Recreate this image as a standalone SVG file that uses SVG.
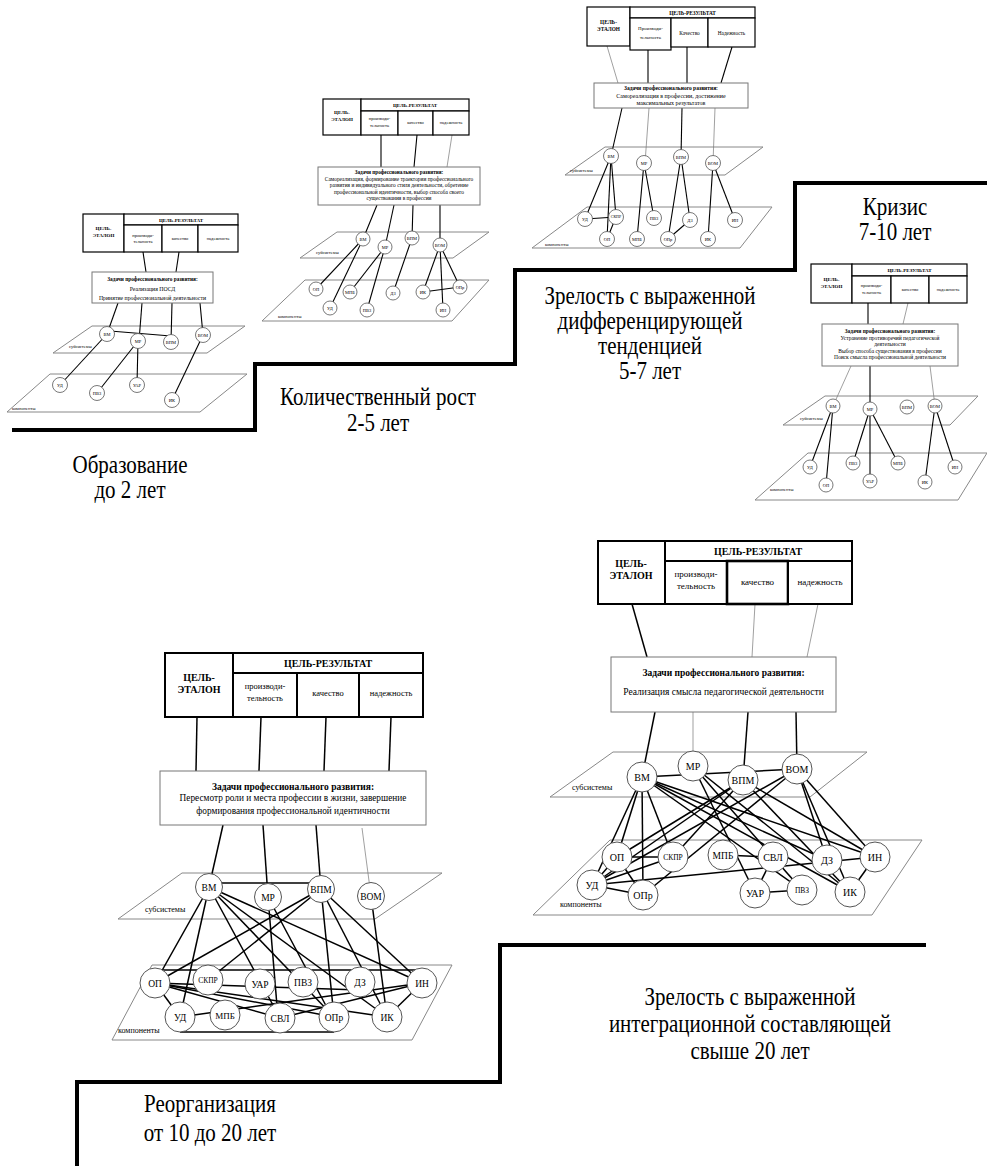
<svg xmlns="http://www.w3.org/2000/svg" width="987" height="1166" viewBox="0 0 987 1166">
<defs>
<style>
text{font-family:"Liberation Serif","Times New Roman",serif;fill:#000;text-anchor:middle}
.h{font-weight:bold}
.st{fill:none;stroke:#000;stroke-width:4}
.b{fill:#fff;stroke:#000;stroke-width:1.2}
.b2{fill:#fff;stroke:#000;stroke-width:2}
.b3{fill:#fff;stroke:#000;stroke-width:2.6}
.tk{fill:#fff;stroke:#777;stroke-width:1}
.pl{fill:none;stroke:#888;stroke-width:1}
.c{fill:#fff;stroke:#555;stroke-width:0.8}
.c2{fill:#fff;stroke:#555;stroke-width:1}
.e line{stroke:#000;stroke-width:1.1}
.e2 line{stroke:#000;stroke-width:1.5}
line.t{stroke:#777;stroke-width:0.7}
.lab{font-size:21px}
.s{font-size:4.5px}
.pa{text-anchor:start}
</style>
</defs>
<rect width="987" height="1166" fill="#fff"/>

<g id="stairs">
<polyline class="st" points="12,430 255,430 255,364 515,364 515,270 795,270 795,183 987,183"/>
<polyline class="st" points="77,1166 77,1082 500,1082 500,945 926,945"/>
</g>

<g id="stage-labels" class="lab">
<text transform="translate(130,473) scale(1,1.15)">Образование</text>
<text transform="translate(130,498) scale(1,1.15)">до 2 лет</text>
<text transform="translate(378,405) scale(1,1.15)">Количественный рост</text>
<text transform="translate(378,431) scale(1,1.15)">2-5 лет</text>
<text transform="translate(650,304) scale(1,1.15)">Зрелость с выраженной</text>
<text transform="translate(650,329) scale(1,1.15)">дифференцирующей</text>
<text transform="translate(650,354) scale(1,1.15)">тенденцией</text>
<text transform="translate(650,379) scale(1,1.15)">5-7 лет</text>
<text transform="translate(895,215) scale(1,1.15)">Кризис</text>
<text transform="translate(895,240) scale(1,1.15)">7-10 лет</text>
<text transform="translate(750,1005) scale(1,1.15)">Зрелость с выраженной</text>
<text transform="translate(750,1032) scale(1,1.15)">интеграционной составляющей</text>
<text transform="translate(750,1059) scale(1,1.15)">свыше 20 лет</text>
<text transform="translate(210,1112) scale(1,1.15)">Реорганизация</text>
<text transform="translate(210,1141) scale(1,1.15)">от 10 до 20 лет</text>
</g>

<g id="planes">
<polygon class="pl" points="92,326 245,326 207,353 53,353"/>
<polygon class="pl" points="50,374 247,374 200,412 7,412"/>
<text class="s pa" x="69" y="348">субсистемы</text>
<text class="s pa" x="12" y="410">компоненты</text>

<polygon class="pl" points="337,232 489,232 453,258 300,258"/>
<polygon class="pl" points="305,280 489,280 452,321 262,321"/>
<text class="s pa" x="316" y="254">субсистемы</text>
<text class="s pa" x="278" y="318">компоненты</text>

<polygon class="pl" points="605,147 763,147 725,175 565,175"/>
<polygon class="pl" points="587,207 772,207 740,248 532,248"/>
<text class="s pa" x="570" y="172">субсистемы</text>
<text class="s pa" x="545" y="246">компоненты</text>

<polygon class="pl" points="825,396 978,396 950,425 783,425"/>
<polygon class="pl" points="808,453 987,453 958,500 755,500"/>
<text class="s pa" x="800" y="420">субсистемы</text>
<text class="s pa" x="770" y="491">компоненты</text>

<polygon class="pl" points="182,873 442,873 375,919 118,919"/>
<polygon class="pl" points="152,965 452,965 412,1040 112,1040"/>
<text class="pa" x="145" y="912" font-size="8">субсистемы</text>
<text class="pa" x="118" y="1033" font-size="8">компоненты</text>

<polygon class="pl" points="613,752 867,752 810,797 550,797"/>
<polygon class="pl" points="610,840 922,840 872,915 533,915"/>
<text class="pa" x="572" y="790" font-size="8">субсистемы</text>
<text class="pa" x="560" y="907" font-size="8">компоненты</text>
</g>

<g id="connectors">
<g id="c-d1" class="e">
<line x1="143" y1="252" x2="146" y2="272"/>
<line x1="179" y1="252" x2="176" y2="272"/>
<line x1="118" y1="303" x2="107" y2="334"/>
<line x1="142" y1="303" x2="139" y2="341"/>
<line x1="172" y1="303" x2="171" y2="342"/>
<line x1="200" y1="303" x2="203" y2="335"/>
<line x1="110" y1="331" x2="171" y2="336"/>
<line x1="107" y1="334" x2="60" y2="385"/>
<line x1="138" y1="341" x2="97" y2="393"/>
<line x1="138" y1="341" x2="137" y2="385"/>
<line x1="203" y1="335" x2="172" y2="400"/>
</g>
<g id="c-d2" class="e">
<line x1="381" y1="135" x2="381" y2="167"/>
<line x1="417" y1="135" x2="414" y2="167"/>
<line class="t" x1="452" y1="135" x2="447" y2="167"/>
<line x1="377" y1="205" x2="363" y2="239"/>
<line x1="394" y1="205" x2="385" y2="247"/>
<line x1="413" y1="205" x2="412" y2="238"/>
<line x1="440" y1="205" x2="440" y2="245"/>
<line x1="363" y1="239" x2="316" y2="289"/>
<line x1="363" y1="239" x2="330" y2="308"/>
<line x1="385" y1="247" x2="350" y2="292"/>
<line x1="385" y1="247" x2="367" y2="310"/>
<line x1="412" y1="238" x2="393" y2="293"/>
<line x1="440" y1="245" x2="423" y2="292"/>
<line x1="440" y1="245" x2="443" y2="310"/>
<line x1="440" y1="245" x2="460" y2="287"/>
<line x1="423" y1="292" x2="460" y2="287"/>
</g>
<g id="c-d3" class="e">
<line class="t" x1="607" y1="46" x2="618" y2="83"/>
<line x1="648" y1="50" x2="648" y2="83"/>
<line x1="687" y1="47" x2="687" y2="83"/>
<line x1="732" y1="47" x2="721" y2="83"/>
<line x1="622" y1="108" x2="611" y2="156"/>
<line class="t" x1="649" y1="108" x2="645" y2="163"/>
<line x1="682" y1="108" x2="681" y2="157"/>
<line class="t" x1="715" y1="108" x2="713" y2="163"/>
<line x1="611" y1="156" x2="585" y2="219"/>
<line x1="611" y1="156" x2="607" y2="239"/>
<line x1="611" y1="156" x2="616" y2="217"/>
<line x1="585" y1="219" x2="616" y2="217"/>
<line x1="607" y1="239" x2="616" y2="217"/>
<line x1="644" y1="163" x2="637" y2="239"/>
<line x1="644" y1="163" x2="654" y2="218"/>
<line x1="681" y1="157" x2="668" y2="239"/>
<line x1="681" y1="157" x2="690" y2="220"/>
<line x1="668" y1="239" x2="690" y2="220"/>
<line x1="713" y1="163" x2="708" y2="239"/>
<line x1="713" y1="163" x2="735" y2="220"/>
</g>
<g id="c-d4" class="e">
<line x1="868" y1="303" x2="868" y2="324"/>
<line class="t" x1="908" y1="303" x2="903" y2="324"/>
<line class="t" x1="851" y1="366" x2="833" y2="406"/>
<line x1="870" y1="366" x2="870" y2="409"/>
<line class="t" x1="930" y1="366" x2="935" y2="406"/>
<line x1="833" y1="406" x2="810" y2="467"/>
<line x1="833" y1="406" x2="826" y2="485"/>
<line x1="870" y1="409" x2="853" y2="463"/>
<line x1="870" y1="409" x2="870" y2="481"/>
<line x1="870" y1="409" x2="898" y2="463"/>
<line x1="935" y1="406" x2="925" y2="482"/>
<line x1="935" y1="406" x2="955" y2="467"/>
</g>
<g id="c-d5" class="e2">
<line x1="197" y1="717" x2="196" y2="771"/>
<line x1="261" y1="717" x2="259" y2="771"/>
<line x1="326" y1="717" x2="324" y2="771"/>
<line x1="391" y1="717" x2="389" y2="771"/>
<line x1="223" y1="825" x2="209" y2="887"/>
<line x1="263" y1="825" x2="268" y2="897"/>
<line x1="316" y1="825" x2="321" y2="889"/>
<line class="t" x1="362" y1="828" x2="371" y2="896"/>
<line x1="212" y1="883" x2="318" y2="883"/>
<line x1="209" y1="887" x2="155" y2="983"/>
<line x1="209" y1="887" x2="180" y2="1017"/>
<line x1="209" y1="887" x2="280" y2="1018"/>
<line x1="209" y1="887" x2="334" y2="1017"/>
<line x1="209" y1="887" x2="387" y2="1017"/>
<line x1="209" y1="887" x2="422" y2="983"/>
<line x1="268" y1="897" x2="278" y2="1018"/>
<line x1="268" y1="897" x2="332" y2="1017"/>
<line x1="321" y1="889" x2="155" y2="983"/>
<line x1="321" y1="889" x2="208" y2="980"/>
<line x1="321" y1="889" x2="334" y2="1017"/>
<line x1="321" y1="889" x2="387" y2="1017"/>
<line x1="321" y1="889" x2="422" y2="983"/>
<line x1="371" y1="896" x2="387" y2="1017"/>
<line x1="155" y1="970" x2="422" y2="970"/>
<line x1="155" y1="983" x2="387" y2="1017"/>
<line x1="155" y1="983" x2="334" y2="1017"/>
<line x1="155" y1="983" x2="280" y2="1018"/>
<line x1="155" y1="983" x2="360" y2="990"/>
<line x1="155" y1="983" x2="180" y2="1017"/>
<line x1="422" y1="983" x2="180" y2="1017"/>
<line x1="422" y1="983" x2="280" y2="1018"/>
<line x1="422" y1="983" x2="387" y2="1017"/>
<line x1="180" y1="1032" x2="334" y2="1032"/>
</g>
<g id="c-d6" class="e2">
<line x1="632" y1="604" x2="647" y2="657"/>
<line class="t" x1="755" y1="604" x2="752" y2="657"/>
<line class="t" x1="818" y1="604" x2="807" y2="657"/>
<line x1="655" y1="712" x2="642" y2="777"/>
<line class="t" x1="693" y1="712" x2="693" y2="766"/>
<line x1="748" y1="712" x2="743" y2="780"/>
<line x1="796" y1="712" x2="797" y2="769"/>
<line x1="642" y1="777" x2="797" y2="769"/>
<line x1="642" y1="777" x2="592" y2="885"/>
<line x1="642" y1="777" x2="617" y2="857"/>
<line x1="642" y1="777" x2="643" y2="895"/>
<line x1="642" y1="777" x2="673" y2="857"/>
<line x1="642" y1="777" x2="827" y2="860"/>
<line x1="642" y1="777" x2="875" y2="857"/>
<line x1="642" y1="777" x2="850" y2="892"/>
<line x1="642" y1="777" x2="802" y2="890"/>
<line x1="693" y1="766" x2="755" y2="893"/>
<line x1="693" y1="766" x2="802" y2="890"/>
<line x1="693" y1="766" x2="850" y2="892"/>
<line x1="743" y1="780" x2="617" y2="857"/>
<line x1="743" y1="780" x2="592" y2="885"/>
<line x1="743" y1="780" x2="673" y2="857"/>
<line x1="743" y1="780" x2="875" y2="857"/>
<line x1="743" y1="780" x2="850" y2="892"/>
<line x1="797" y1="769" x2="592" y2="885"/>
<line x1="797" y1="769" x2="643" y2="895"/>
<line x1="797" y1="769" x2="827" y2="860"/>
<line x1="797" y1="769" x2="850" y2="892"/>
<line x1="797" y1="769" x2="875" y2="857"/>
<line x1="617" y1="857" x2="673" y2="857"/>
<line x1="592" y1="885" x2="617" y2="857"/>
<line x1="592" y1="885" x2="643" y2="895"/>
<line x1="592" y1="885" x2="673" y2="857"/>
<line x1="592" y1="885" x2="875" y2="857"/>
<line x1="617" y1="857" x2="643" y2="895"/>
<line x1="723" y1="855" x2="773" y2="857"/>
<line x1="755" y1="893" x2="802" y2="890"/>
<line x1="773" y1="857" x2="755" y2="893"/>
<line x1="875" y1="857" x2="850" y2="892"/>
</g>
</g>

<g id="d1">
<g id="d1-table">
<rect class="b" x="83" y="214" width="41" height="38"/>
<rect class="b" x="124" y="214" width="114" height="11"/>
<rect class="b" x="124" y="225" width="38" height="27"/>
<rect class="b" x="162" y="225" width="36" height="27"/>
<rect class="b" x="198" y="225" width="40" height="27"/>
<text class="h" x="103.5" y="230" font-size="5">ЦЕЛЬ-</text>
<text class="h" x="103.5" y="236.5" font-size="5">ЭТАЛОН</text>
<text class="h" x="181" y="221.5" font-size="5">ЦЕЛЬ-РЕЗУЛЬТАТ</text>
<text class="s" x="143" y="236.5">производи-</text>
<text class="s" x="143" y="243">тельность</text>
<text class="s" x="180" y="240">качество</text>
<text class="s" x="218" y="240">надежность</text>
</g>
<g id="d1-tasks">
<rect class="tk" x="92" y="272" width="121" height="31"/>
<text class="h" x="152.5" y="281" font-size="5.3">Задачи профессионального развития:</text>
<text x="152.5" y="291" font-size="5.8">Реализация ПОСД</text>
<text x="152.5" y="299.5" font-size="5.8">Принятие профессиональной деятельности</text>
</g>
<g id="d1-vm"><circle class="c" cx="107" cy="334" r="7.5"/><text class="s" x="107" y="335.6">ВМ</text></g>
<g id="d1-mr"><circle class="c" cx="138" cy="341" r="7.5"/><text class="s" x="138" y="342.6">МР</text></g>
<g id="d1-vpm"><circle class="c" cx="171" cy="342" r="7.5"/><text class="s" x="171" y="343.6">ВПМ</text></g>
<g id="d1-vom"><circle class="c" cx="203" cy="335" r="7.5"/><text class="s" x="203" y="336.6">ВОМ</text></g>
<g id="d1-ud"><circle class="c" cx="60" cy="385" r="7.5"/><text class="s" x="60" y="386.6">УД</text></g>
<g id="d1-pvz"><circle class="c" cx="97" cy="393" r="7.5"/><text class="s" x="97" y="394.6">ПВЗ</text></g>
<g id="d1-uar"><circle class="c" cx="137" cy="385" r="7.5"/><text class="s" x="137" y="386.6">УАР</text></g>
<g id="d1-ik"><circle class="c" cx="172" cy="400" r="7.5"/><text class="s" x="172" y="401.6">ИК</text></g>
</g>

<g id="d2">
<g id="d2-table">
<rect class="b" x="323" y="99" width="38" height="36"/>
<rect class="b" x="361" y="99" width="108" height="12"/>
<rect class="b" x="361" y="111" width="37" height="24"/>
<rect class="b" x="398" y="111" width="35" height="24"/>
<rect class="b" x="433" y="111" width="36" height="24"/>
<text class="h" x="342" y="114" font-size="5">ЦЕЛЬ-</text>
<text class="h" x="342" y="120.5" font-size="5">ЭТАЛОН</text>
<text class="h" x="415" y="106.8" font-size="5">ЦЕЛЬ-РЕЗУЛЬТАТ</text>
<text class="s" x="379.5" y="120">производи-</text>
<text class="s" x="379.5" y="127">тельность</text>
<text class="s" x="415.5" y="124">качество</text>
<text class="s" x="451" y="124">надежность</text>
</g>
<g id="d2-tasks">
<rect class="tk" x="318" y="167" width="162" height="38"/>
<text class="h" x="399" y="174" font-size="5.2">Задачи профессионального развития:</text>
<text x="399" y="180.5" font-size="5.4">Самореализация, формирование траектории профессионального</text>
<text x="399" y="187" font-size="5.4">развития и индивидуального стиля деятельности, обретение</text>
<text x="399" y="193.5" font-size="5.4">профессиональной идентичности, выбор способа своего</text>
<text x="399" y="200" font-size="5.4">существования в профессии</text>
</g>
<g id="d2-vm"><circle class="c" cx="363" cy="239" r="7"/><text class="s" x="363" y="240.6">ВМ</text></g>
<g id="d2-mr"><circle class="c" cx="385" cy="247" r="7"/><text class="s" x="385" y="248.6">МР</text></g>
<g id="d2-vpm"><circle class="c" cx="412" cy="238" r="7"/><text class="s" x="412" y="239.6">ВПМ</text></g>
<g id="d2-vom"><circle class="c" cx="440" cy="245" r="7"/><text class="s" x="440" y="246.6">ВОМ</text></g>
<g id="d2-op"><circle class="c" cx="316" cy="289" r="7"/><text class="s" x="316" y="290.6">ОП</text></g>
<g id="d2-mpb"><circle class="c" cx="350" cy="292" r="7"/><text class="s" x="350" y="293.6">МПБ</text></g>
<g id="d2-ud"><circle class="c" cx="330" cy="308" r="7"/><text class="s" x="330" y="309.6">УД</text></g>
<g id="d2-pvz"><circle class="c" cx="367" cy="310" r="7"/><text class="s" x="367" y="311.6">ПВЗ</text></g>
<g id="d2-dz"><circle class="c" cx="393" cy="293" r="7"/><text class="s" x="393" y="294.6">ДЗ</text></g>
<g id="d2-ik"><circle class="c" cx="423" cy="292" r="7"/><text class="s" x="423" y="293.6">ИК</text></g>
<g id="d2-opr"><circle class="c" cx="460" cy="287" r="7"/><text class="s" x="460" y="288.6">ОПр</text></g>
<g id="d2-in"><circle class="c" cx="443" cy="310" r="7"/><text class="s" x="443" y="311.6">ИН</text></g>
</g>

<g id="d3">
<g id="d3-table">
<rect class="b" x="587" y="7" width="43" height="39"/>
<rect class="b" x="630" y="7" width="125" height="11"/>
<rect class="b" x="630" y="18" width="41" height="32"/>
<rect class="b" x="671" y="18" width="37" height="29"/>
<rect class="b" x="708" y="18" width="47" height="29"/>
<text class="h" x="608.5" y="24" font-size="5.3">ЦЕЛЬ-</text>
<text class="h" x="608.5" y="30.5" font-size="5.3">ЭТАЛОН</text>
<text class="h" x="692.5" y="14.5" font-size="5.3">ЦЕЛЬ-РЕЗУЛЬТАТ</text>
<text x="650.5" y="30" font-size="5">Производи-</text>
<text x="650.5" y="39" font-size="5">тельность</text>
<text x="689.5" y="35" font-size="5.3">Качество</text>
<text x="731.5" y="35" font-size="5.3">Надежность</text>
</g>
<g id="d3-tasks">
<rect class="tk" x="594" y="83" width="154" height="25"/>
<text class="h" x="671" y="90" font-size="5.5">Задачи профессионального развития:</text>
<text x="671" y="98" font-size="6">Самореализация в профессии, достижение</text>
<text x="671" y="105" font-size="6">максимальных результатов</text>
</g>
<g id="d3-vm"><circle class="c" cx="611" cy="156" r="7.5"/><text class="s" x="611" y="157.6">ВМ</text></g>
<g id="d3-mr"><circle class="c" cx="644" cy="163" r="7.5"/><text class="s" x="644" y="164.6">МР</text></g>
<g id="d3-vpm"><circle class="c" cx="681" cy="157" r="7.5"/><text class="s" x="681" y="158.6">ВПМ</text></g>
<g id="d3-vom"><circle class="c" cx="713" cy="163" r="7.5"/><text class="s" x="713" y="164.6">ВОМ</text></g>
<g id="d3-ud"><circle class="c" cx="585" cy="219" r="7.5"/><text class="s" x="585" y="220.6">УД</text></g>
<g id="d3-skpr"><circle class="c" cx="616" cy="217" r="7.5"/><text x="616" y="218.4" font-size="4">СКПР</text></g>
<g id="d3-pvz"><circle class="c" cx="654" cy="218" r="7.5"/><text class="s" x="654" y="219.6">ПВЗ</text></g>
<g id="d3-dz"><circle class="c" cx="690" cy="220" r="7.5"/><text class="s" x="690" y="221.6">ДЗ</text></g>
<g id="d3-in"><circle class="c" cx="735" cy="220" r="7.5"/><text class="s" x="735" y="221.6">ИН</text></g>
<g id="d3-op"><circle class="c" cx="607" cy="239" r="7.5"/><text class="s" x="607" y="240.6">ОП</text></g>
<g id="d3-mpb"><circle class="c" cx="637" cy="239" r="7.5"/><text class="s" x="637" y="240.6">МПБ</text></g>
<g id="d3-opr"><circle class="c" cx="668" cy="239" r="7.5"/><text class="s" x="668" y="240.6">ОПр</text></g>
<g id="d3-ik"><circle class="c" cx="708" cy="239" r="7.5"/><text class="s" x="708" y="240.6">ИК</text></g>
</g>

<g id="d4">
<g id="d4-table">
<rect class="b" x="811" y="264" width="41" height="39"/>
<rect class="b" x="852" y="264" width="115" height="12"/>
<rect class="b" x="852" y="276" width="39" height="27"/>
<rect class="b" x="891" y="276" width="38" height="27"/>
<rect class="b" x="929" y="276" width="38" height="27"/>
<text class="h" x="831.5" y="281" font-size="5">ЦЕЛЬ-</text>
<text class="h" x="831.5" y="287.5" font-size="5">ЭТАЛОН</text>
<text class="h" x="909.5" y="271.8" font-size="5">ЦЕЛЬ-РЕЗУЛЬТАТ</text>
<text class="s" x="871.5" y="287">производи-</text>
<text class="s" x="871.5" y="294">тельность</text>
<text class="s" x="910" y="291">качество</text>
<text class="s" x="948" y="291">надежность</text>
</g>
<g id="d4-tasks">
<rect class="tk" x="822" y="324" width="136" height="42"/>
<text class="h" x="890" y="333" font-size="5.3">Задачи профессионального развития:</text>
<text x="890" y="339.5" font-size="5.5">Устранение противоречий педагогической</text>
<text x="890" y="346" font-size="5.5">деятельности</text>
<text x="890" y="352.5" font-size="5.5">Выбор способа существования в профессии</text>
<text x="890" y="359" font-size="5.5">Поиск смысла профессиональной деятельности</text>
</g>
<g id="d4-vm"><circle class="c" cx="833" cy="406" r="7"/><text class="s" x="833" y="407.6">ВМ</text></g>
<g id="d4-mr"><circle class="c" cx="870" cy="409" r="7"/><text class="s" x="870" y="410.6">МР</text></g>
<g id="d4-vpm"><circle class="c" cx="907" cy="407" r="7"/><text class="s" x="907" y="408.6">ВПМ</text></g>
<g id="d4-vom"><circle class="c" cx="935" cy="406" r="7"/><text class="s" x="935" y="407.6">ВОМ</text></g>
<g id="d4-ud"><circle class="c" cx="810" cy="467" r="7"/><text class="s" x="810" y="468.6">УД</text></g>
<g id="d4-op"><circle class="c" cx="826" cy="485" r="7"/><text class="s" x="826" y="486.6">ОП</text></g>
<g id="d4-pvz"><circle class="c" cx="853" cy="463" r="7"/><text class="s" x="853" y="464.6">ПВЗ</text></g>
<g id="d4-uar"><circle class="c" cx="870" cy="481" r="7"/><text class="s" x="870" y="482.6">УАР</text></g>
<g id="d4-mpb"><circle class="c" cx="898" cy="463" r="7"/><text class="s" x="898" y="464.6">МПБ</text></g>
<g id="d4-ik"><circle class="c" cx="925" cy="482" r="7"/><text class="s" x="925" y="483.6">ИК</text></g>
<g id="d4-in"><circle class="c" cx="955" cy="467" r="7"/><text class="s" x="955" y="468.6">ИН</text></g>
</g>

<g id="d5">
<g id="d5-table">
<rect class="b2" x="165" y="653" width="68" height="64"/>
<rect class="b2" x="233" y="653" width="190" height="20"/>
<rect class="b2" x="233" y="673" width="64" height="44"/>
<rect class="b2" x="297" y="673" width="62" height="44"/>
<rect class="b2" x="359" y="673" width="64" height="44"/>
<text class="h" x="199" y="681" font-size="10">ЦЕЛЬ-</text>
<text class="h" x="199" y="693" font-size="10">ЭТАЛОН</text>
<text class="h" x="328" y="667" font-size="10">ЦЕЛЬ-РЕЗУЛЬТАТ</text>
<text x="265" y="689" font-size="8.5">производи-</text>
<text x="265" y="701" font-size="8.5">тельность</text>
<text x="328" y="696" font-size="8.5">качество</text>
<text x="391" y="696" font-size="8.5">надежность</text>
</g>
<g id="d5-tasks">
<rect class="tk" x="160" y="771" width="266" height="54"/>
<text class="h" x="293" y="789.5" font-size="9.5">Задачи профессионального развития:</text>
<text x="293" y="801" font-size="9.3">Пересмотр роли и места профессии в жизни, завершение</text>
<text x="293" y="813.5" font-size="9.3">формирования профессиональной идентичности</text>
</g>
<g id="d5-vm"><circle class="c2" cx="209" cy="887" r="13.5"/><text x="209" y="890.5" font-size="9.5">ВМ</text></g>
<g id="d5-mr"><circle class="c2" cx="268" cy="897" r="13.5"/><text x="268" y="900.5" font-size="9.5">МР</text></g>
<g id="d5-vpm"><circle class="c2" cx="321" cy="889" r="13.5"/><text x="321" y="892.5" font-size="9.5">ВПМ</text></g>
<g id="d5-vom"><circle class="c2" cx="371" cy="896" r="13.5"/><text x="371" y="899.5" font-size="9.5">ВОМ</text></g>
<g id="d5-op"><circle class="c2" cx="155" cy="983" r="15"/><text x="155" y="986.5" font-size="9.5">ОП</text></g>
<g id="d5-skpr"><circle class="c2" cx="208" cy="980" r="15"/><text x="208" y="983" font-size="7.5">СКПР</text></g>
<g id="d5-uar"><circle class="c2" cx="260" cy="984" r="15"/><text x="260" y="987.5" font-size="9.5">УАР</text></g>
<g id="d5-pvz"><circle class="c2" cx="303" cy="982" r="15"/><text x="303" y="985.5" font-size="9.5">ПВЗ</text></g>
<g id="d5-dz"><circle class="c2" cx="360" cy="982" r="15"/><text x="360" y="985.5" font-size="9.5">ДЗ</text></g>
<g id="d5-in"><circle class="c2" cx="422" cy="983" r="15"/><text x="422" y="986.5" font-size="9.5">ИН</text></g>
<g id="d5-ud"><circle class="c2" cx="180" cy="1017" r="15"/><text x="180" y="1020.5" font-size="9.5">УД</text></g>
<g id="d5-mpb"><circle class="c2" cx="225" cy="1015" r="15"/><text x="225" y="1018.5" font-size="9">МПБ</text></g>
<g id="d5-svl"><circle class="c2" cx="280" cy="1018" r="15"/><text x="280" y="1021.5" font-size="9.5">СВЛ</text></g>
<g id="d5-opr"><circle class="c2" cx="334" cy="1017" r="15"/><text x="334" y="1020.5" font-size="9.5">ОПр</text></g>
<g id="d5-ik"><circle class="c2" cx="387" cy="1017" r="15"/><text x="387" y="1020.5" font-size="9.5">ИК</text></g>
</g>

<g id="d6">
<g id="d6-table">
<rect class="b2" x="598" y="541" width="67" height="63"/>
<rect class="b2" x="665" y="541" width="187" height="20"/>
<rect class="b2" x="665" y="561" width="62" height="43"/>
<rect class="b3" x="727" y="561" width="61" height="43"/>
<rect class="b2" x="788" y="561" width="64" height="43"/>
<text class="h" x="631" y="567" font-size="10">ЦЕЛЬ-</text>
<text class="h" x="631" y="579" font-size="10">ЭТАЛОН</text>
<text class="h" x="758" y="554.5" font-size="10">ЦЕЛЬ-РЕЗУЛЬТАТ</text>
<text x="696" y="577" font-size="9">производи-</text>
<text x="696" y="589" font-size="9">тельность</text>
<text x="757.5" y="584.5" font-size="9">качество</text>
<text x="820" y="584.5" font-size="9">надежность</text>
</g>
<g id="d6-tasks">
<rect class="tk" x="611" y="657" width="225" height="55"/>
<text class="h" x="723.5" y="675.5" font-size="9.5">Задачи профессионального развития:</text>
<text x="723.5" y="695" font-size="9.5">Реализация смысла педагогической деятельности</text>
</g>
<g id="d6-vm"><circle class="c2" cx="642" cy="777" r="15"/><text x="642" y="780.5" font-size="10">ВМ</text></g>
<g id="d6-mr"><circle class="c2" cx="693" cy="766" r="15"/><text x="693" y="769.5" font-size="10">МР</text></g>
<g id="d6-vpm"><circle class="c2" cx="743" cy="780" r="15"/><text x="743" y="783.5" font-size="10">ВПМ</text></g>
<g id="d6-vom"><circle class="c2" cx="797" cy="769" r="15"/><text x="797" y="772.5" font-size="10">ВОМ</text></g>
<g id="d6-op"><circle class="c2" cx="617" cy="857" r="15"/><text x="617" y="860.5" font-size="10">ОП</text></g>
<g id="d6-skpr"><circle class="c2" cx="673" cy="857" r="15"/><text x="673" y="860" font-size="7.5">СКПР</text></g>
<g id="d6-mpb"><circle class="c2" cx="723" cy="855" r="15"/><text x="723" y="858.5" font-size="9.5">МПБ</text></g>
<g id="d6-svl"><circle class="c2" cx="773" cy="857" r="15"/><text x="773" y="860.5" font-size="10">СВЛ</text></g>
<g id="d6-dz"><circle class="c2" cx="827" cy="860" r="15"/><text x="827" y="863.5" font-size="10">ДЗ</text></g>
<g id="d6-in"><circle class="c2" cx="875" cy="857" r="15"/><text x="875" y="860.5" font-size="10">ИН</text></g>
<g id="d6-ud"><circle class="c2" cx="592" cy="885" r="15"/><text x="592" y="888.5" font-size="10">УД</text></g>
<g id="d6-opr"><circle class="c2" cx="643" cy="895" r="15"/><text x="643" y="898.5" font-size="10">ОПр</text></g>
<g id="d6-uar"><circle class="c2" cx="755" cy="893" r="15"/><text x="755" y="896.5" font-size="10">УАР</text></g>
<g id="d6-pvz"><circle class="c2" cx="802" cy="890" r="15"/><text x="802" y="893" font-size="7.5">ПВЗ</text></g>
<g id="d6-ik"><circle class="c2" cx="850" cy="892" r="15"/><text x="850" y="895.5" font-size="10">ИК</text></g>
</g>
</svg>
